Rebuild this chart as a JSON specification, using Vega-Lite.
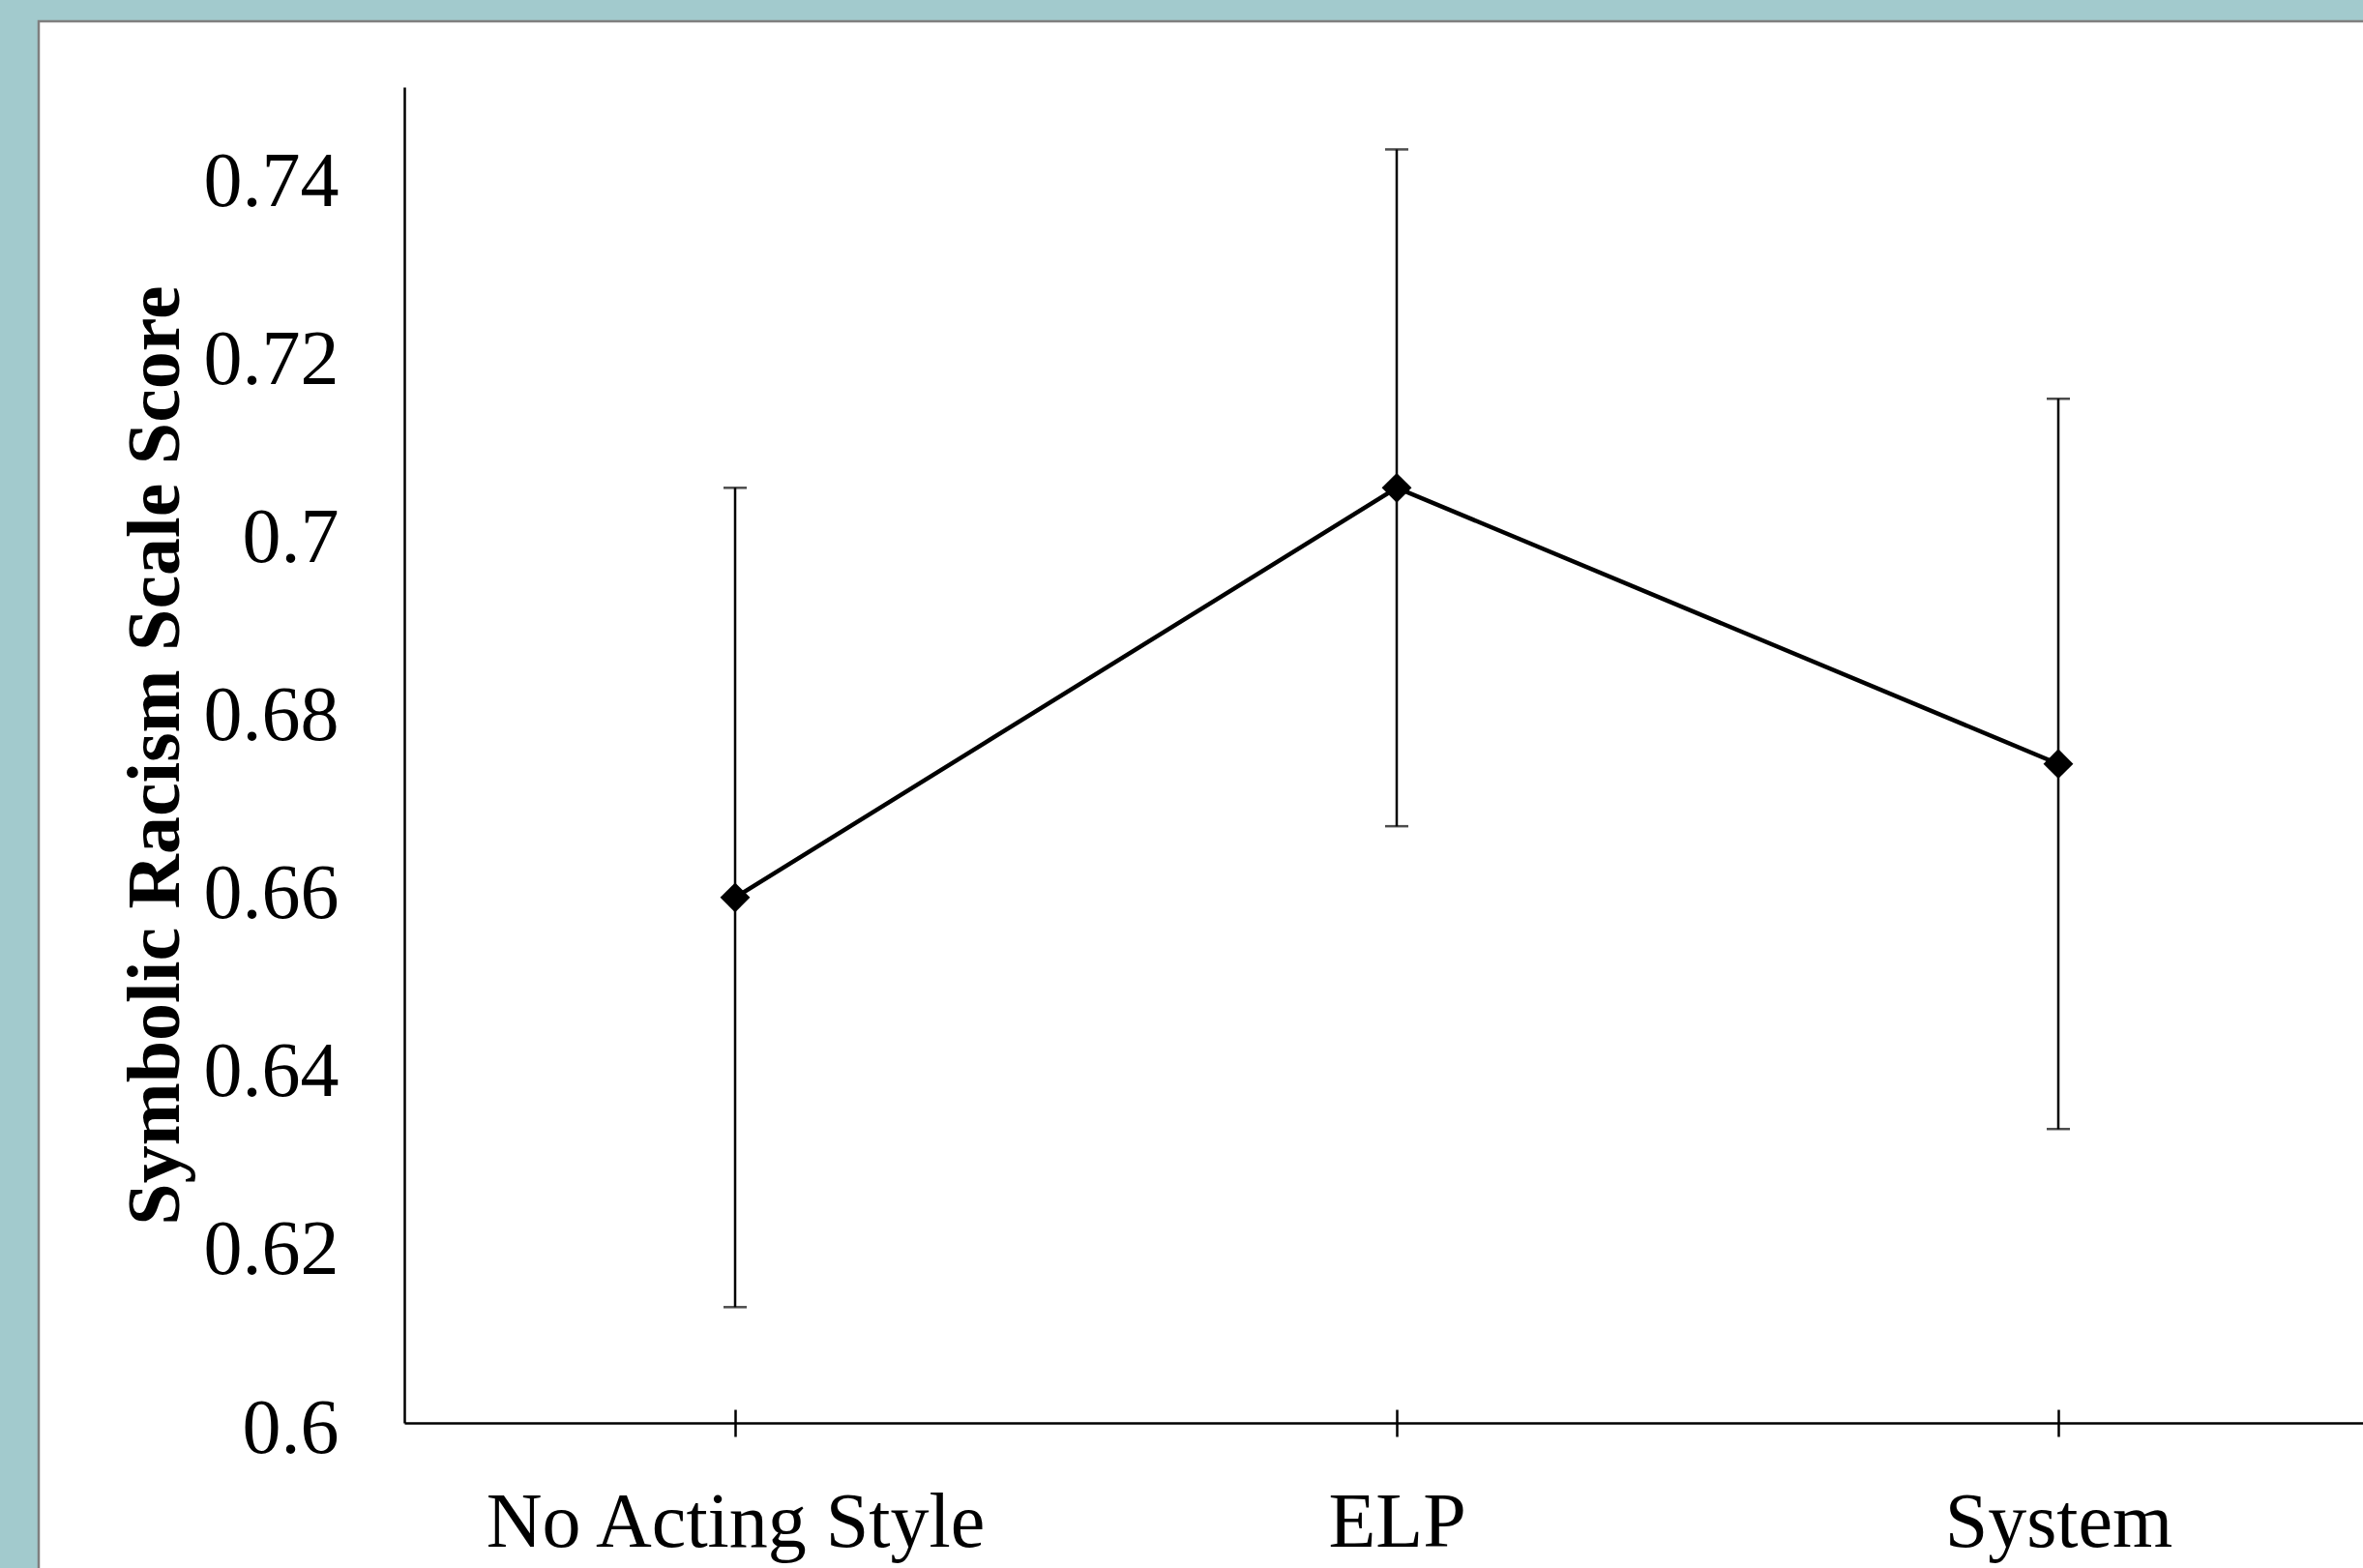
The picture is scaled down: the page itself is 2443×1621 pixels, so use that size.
{
  "$schema": "https://vega.github.io/schema/vega-lite/v6.json",
  "width": 2403,
  "height": 1599,
  "autosize": {"type": "none"},
  "padding": {"left": 40, "top": 22, "right": 0, "bottom": 0},
  "background": "#a2cacd",
  "config": {
    "view": {"fill": "white", "stroke": "#7f7f7f", "strokeWidth": 2.5, "strokeDash": [2403, 4002, 1599]},
    "font": "Liberation Serif"
  },
  "data": {
    "values": [
      {"condition": "No Acting Style", "mean": 0.659, "lo": 0.613, "hi": 0.705},
      {"condition": "ELP", "mean": 0.705, "lo": 0.667, "hi": 0.743},
      {"condition": "System", "mean": 0.674, "lo": 0.633, "hi": 0.715}
    ]
  },
  "resolve": {"axis": {"x": "independent"}},
  "layer": [
    {
      "mark": {"type": "rule", "color": "black", "strokeWidth": 2.5},
      "encoding": {
        "x": {
          "field": "condition", "type": "nominal", "sort": null,
          "scale": {"type": "point", "range": [378, 2430], "padding": 0.5},
          "axis": {
            "orient": "bottom", "offset": -150, "title": null, "grid": false,
            "domain": true, "domainColor": "black", "domainWidth": 2.5,
            "ticks": true, "tickSize": 14, "tickColor": "black", "tickWidth": 2.5,
            "labelFont": "Liberation Serif", "labelFontSize": 80, "labelColor": "black",
            "labelPadding": 50, "labelAngle": 0, "labelLimit": 0
          }
        },
        "y": {
          "field": "lo", "type": "quantitative",
          "scale": {"domain": [0.6, 0.75], "range": [1449, 68], "zero": false, "nice": false},
          "axis": {
            "orient": "left", "offset": -378, "grid": false, "zindex": 1,
            "domain": true, "domainColor": "black", "domainWidth": 2.5,
            "ticks": false,
            "values": [0.6, 0.62, 0.64, 0.66, 0.68, 0.7, 0.72, 0.74],
            "format": ".2~f",
            "labelFont": "Liberation Serif", "labelFontSize": 80, "labelColor": "black",
            "labelPadding": 68, "labelOffset": 6,
            "title": "Symbolic Racism Scale Score",
            "titleFont": "Liberation Serif", "titleFontSize": 78, "titleFontWeight": "bold",
            "titleColor": "black", "titlePadding": 18
          }
        },
        "y2": {"field": "hi"}
      }
    },
    {
      "mark": {"type": "tick", "color": "black", "size": 24, "thickness": 2.5},
      "encoding": {
        "x": {
          "field": "condition", "type": "nominal", "sort": null,
          "axis": {
            "orient": "bottom", "offset": -150, "title": null, "grid": false,
            "domain": false, "labels": false,
            "ticks": true, "tickSize": -14, "tickColor": "black", "tickWidth": 2.5
          }
        },
        "y": {"field": "lo", "type": "quantitative"}
      }
    },
    {
      "mark": {"type": "tick", "color": "black", "size": 24, "thickness": 2.5},
      "encoding": {
        "x": {"field": "condition", "type": "nominal", "sort": null, "axis": null},
        "y": {"field": "hi", "type": "quantitative"}
      }
    },
    {
      "mark": {"type": "line", "color": "black", "strokeWidth": 4.5},
      "encoding": {
        "x": {"field": "condition", "type": "nominal", "sort": null, "axis": null},
        "y": {"field": "mean", "type": "quantitative"}
      }
    },
    {
      "mark": {"type": "point", "shape": "diamond", "filled": true, "color": "black", "size": 950, "opacity": 1},
      "encoding": {
        "x": {"field": "condition", "type": "nominal", "sort": null, "axis": null},
        "y": {"field": "mean", "type": "quantitative"}
      }
    }
  ]
}
